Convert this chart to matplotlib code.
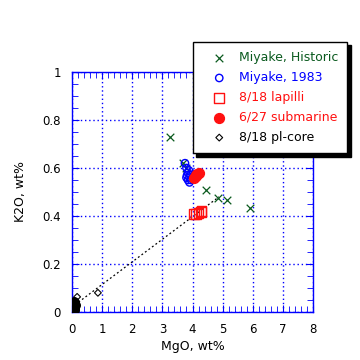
import matplotlib
matplotlib.use("Agg")
import matplotlib.pyplot as plt
from matplotlib.ticker import MultipleLocator, FuncFormatter

# Data (MgO wt%, K2O wt%)
hist_mgo = [3.26, 3.69, 3.80, 4.45, 4.85, 5.15, 5.91]
hist_k2o = [0.73, 0.62, 0.60, 0.51, 0.475, 0.467, 0.433]

m83_mgo = [3.75, 3.80, 3.85, 3.82, 3.90, 3.85, 3.90, 3.95, 3.80, 3.88, 3.93]
m83_k2o = [0.62, 0.60, 0.58, 0.57, 0.56, 0.55, 0.54, 0.55, 0.56, 0.59, 0.57]

lap_mgo = [4.05, 4.12, 4.20, 4.27, 4.30]
lap_k2o = [0.410, 0.410, 0.413, 0.415, 0.420]

sub_mgo = [4.05, 4.10, 4.15, 4.20, 4.12]
sub_k2o = [0.560, 0.570, 0.575, 0.580, 0.565]

plc_mgo = [0.05, 0.06, 0.07, 0.08, 0.09, 0.10, 0.06, 0.08, 0.10, 0.12, 0.07, 0.09, 0.11, 0.17, 0.86]
plc_k2o = [0.000, 0.005, 0.010, 0.015, 0.020, 0.025, 0.030, 0.035, 0.040, 0.030, 0.045, 0.008, 0.018, 0.063, 0.080]

mix_mgo = [0.10, 4.88]
mix_k2o = [0.03, 0.48]

fig = plt.figure(figsize=(3.6, 3.6), dpi=100)
ax = fig.add_axes([72/360, 48/360, 241/360, 240/360])

blue = '#0000ff'
green = '#0a5a1e'
red = '#ff1010'

ax.plot(mix_mgo, mix_k2o, color='black', linestyle=(0, (1.5, 2)), linewidth=0.9, zorder=2)

h1 = ax.scatter(hist_mgo, hist_k2o, marker='x', s=30, color=green, linewidths=0.9, zorder=3, label='Miyake, Historic')
h2 = ax.scatter(m83_mgo, m83_k2o, marker='o', s=28, facecolors='none', edgecolors=blue, linewidths=1.0, zorder=3, label='Miyake, 1983')
h3 = ax.scatter(lap_mgo, lap_k2o, marker='s', s=50, facecolors='none', edgecolors=red, linewidths=1.0, zorder=3, label='8/18 lapilli')
h4 = ax.scatter(sub_mgo, sub_k2o, marker='o', s=50, color=red, zorder=4, label='6/27 submarine')
h5 = ax.scatter(plc_mgo, plc_k2o, marker='D', s=12, facecolors='none', edgecolors='black', linewidths=0.8, zorder=3, label='8/18 pl-core')
ax.scatter(plc_mgo[:13], plc_k2o[:13], marker='o', s=30, color='black', zorder=3)

ax.set_xlim(0, 8)
ax.set_ylim(0, 1)
ax.xaxis.set_major_locator(MultipleLocator(1))
ax.xaxis.set_minor_locator(MultipleLocator(0.2))
ax.yaxis.set_major_locator(MultipleLocator(0.2))
ax.yaxis.set_minor_locator(MultipleLocator(0.05))
ax.xaxis.set_major_formatter(FuncFormatter(lambda v, p: f"{v:g}"))
ax.yaxis.set_major_formatter(FuncFormatter(lambda v, p: f"{v:g}"))

ax.grid(True, which='major', color=blue, linestyle=(0, (1, 2)), linewidth=1.0)
for s in ax.spines.values():
    s.set_color(blue)
    s.set_linewidth(1.0)
ax.tick_params(which='both', direction='in', top=True, right=True, color=blue, labelsize=8.5, labelcolor='black')
ax.tick_params(which='major', length=5, pad=8)
ax.tick_params(which='minor', length=4)

ax.set_xlabel('MgO, wt%', fontsize=9, labelpad=3)
ax.set_ylabel('K2O, wt%', fontsize=9, labelpad=11)

leg = ax.legend(handles=[h1, h2, h3, h4, h5], loc='upper left',
                bbox_to_anchor=(193/360, 1 - 42/360), bbox_transform=fig.transFigure,
                fontsize=9, frameon=True, fancybox=False, edgecolor='black',
                borderpad=0.75, labelspacing=0.55, handletextpad=0.2, handlelength=2.7,
                borderaxespad=0, shadow={'color': 'black', 'alpha': 1, 'ox': 2.5, 'oy': -2.5})
leg.get_frame().set_linewidth(1.0)
leg.set_zorder(10)
cols = [green, blue, red, red, 'black']
for t, c in zip(leg.get_texts(), cols):
    t.set_color(c)

fig.savefig('out.png', dpi=100)
